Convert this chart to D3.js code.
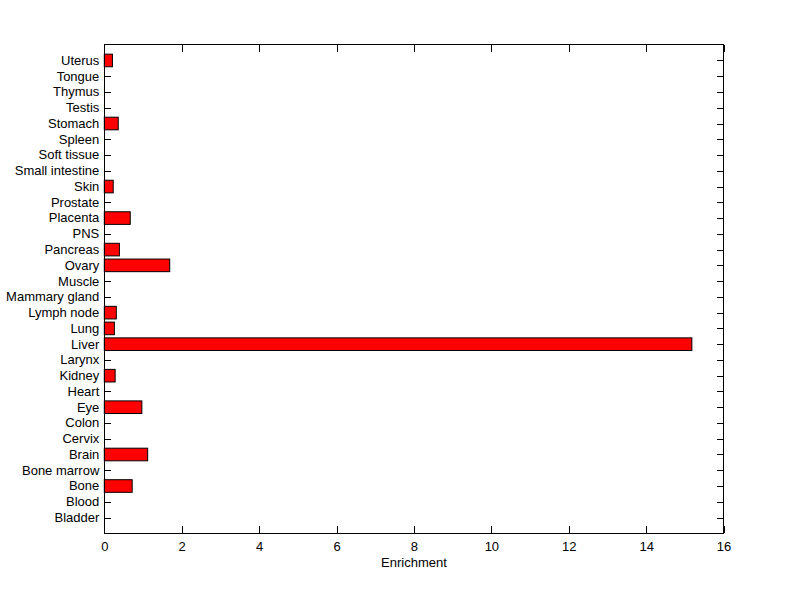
<!DOCTYPE html>
<html>
<head>
<meta charset="utf-8">
<script src="https://cdn.jsdelivr.net/npm/d3@7"></script>
<style>
html,body{margin:0;padding:0;background:#fff;}
text{font-family:"Liberation Sans",Arial,Helvetica,sans-serif;font-size:13px;fill:#000;}
</style>
</head>
<body>
<svg id="chart" width="800" height="599"></svg>
<script>
const categories = ["Bladder","Blood","Bone","Bone marrow","Brain","Cervix","Colon","Eye","Heart","Kidney","Larynx","Liver","Lung","Lymph node","Mammary gland","Muscle","Ovary","Pancreas","PNS","Placenta","Prostate","Skin","Small intestine","Soft tissue","Spleen","Stomach","Testis","Thymus","Tongue","Uterus"];
const values = [0,0,0.72,0,1.12,0,0,0.97,0,0.28,0,15.18,0.26,0.31,0,0,1.69,0.39,0,0.67,0,0.23,0,0,0,0.36,0,0,0,0.21];
const xTicks = [0,2,4,6,8,10,12,14,16];
const xLabel = "Enrichment";

(function(){
const svg = d3.select("#chart");
const mL = 104.3, mR = 723.6, mT = 44.7, mB = 533.3;
const x = d3.scaleLinear().domain([0,16]).range([mL,mR]);
const y = d3.scaleLinear().domain([0,31]).range([mB,mT]);
const barH = (y(0) - y(0.8));
const tickLen = 7;

// axes
const yAxisL = d3.axisLeft(y).tickValues(categories.map((c,i)=>i+1))
  .tickFormat(d => categories[d-1]).tickSizeInner(-tickLen).tickSizeOuter(0).tickPadding(5);
const gL = svg.append("g").attr("transform",`translate(${mL},0)`).call(yAxisL);
gL.select(".domain").remove();
gL.selectAll("text").style("font-size","13px").attr("x", -5).attr("dy","0.3em");

const yAxisR = d3.axisRight(y).tickValues(categories.map((c,i)=>i+1))
  .tickFormat("").tickSizeInner(-tickLen).tickSizeOuter(0);
const gR = svg.append("g").attr("transform",`translate(${mR},0)`).call(yAxisR);
gR.select(".domain").remove();

const xAxisB = d3.axisBottom(x).tickValues(xTicks).tickFormat(d3.format("d"))
  .tickSizeInner(-tickLen).tickSizeOuter(0);
const gB = svg.append("g").attr("transform",`translate(0,${mB})`).call(xAxisB);
gB.select(".domain").remove();
gB.selectAll("text").style("font-size","13px").attr("y", 8).attr("dy","0.71em");

const xAxisT = d3.axisTop(x).tickValues(xTicks).tickFormat("")
  .tickSizeInner(-tickLen).tickSizeOuter(0);
const gT = svg.append("g").attr("transform",`translate(0,${mT})`).call(xAxisT);
gT.select(".domain").remove();

svg.selectAll(".tick line").attr("stroke","#000").attr("shape-rendering","crispEdges");
svg.selectAll("g text").attr("fill","#000").attr("font-family","Liberation Sans, Arial, sans-serif");

// bars (drawn over tick marks)
svg.append("g").selectAll("rect")
  .data(categories.map((c,i)=>({c, v: values[i], pos: i+1})).filter(d=>d.v>0))
  .join("rect")
  .attr("x", x(0))
  .attr("y", d => y(d.pos) - barH/2)
  .attr("width", d => x(d.v) - x(0))
  .attr("height", barH)
  .attr("fill", "#ff0000")
  .attr("stroke", "#000")
  .attr("stroke-width", 1);

// box
svg.append("rect").attr("x",mL).attr("y",mT).attr("width",mR-mL).attr("height",mB-mT)
  .attr("fill","none").attr("stroke","#000").attr("stroke-width",1).attr("shape-rendering","crispEdges");

svg.append("text").attr("x",(mL+mR)/2).attr("y",567).attr("text-anchor","middle").text(xLabel);
})();
</script>
</body>
</html>
